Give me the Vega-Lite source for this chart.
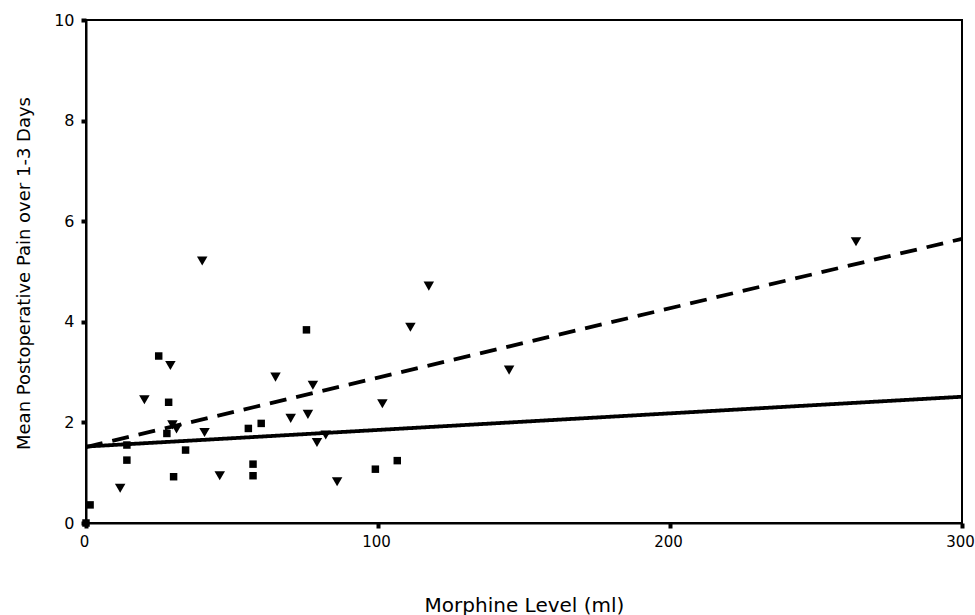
{
  "$schema": "https://vega.github.io/schema/vega-lite/v6.json",
  "width": 876,
  "height": 503,
  "autosize": {"type": "none"},
  "padding": {"left": 86, "top": 20, "right": 13, "bottom": 92},
  "background": "white",
  "config": {
    "view": {"stroke": "#000000", "strokeWidth": 2},
    "font": "DejaVu Sans",
    "axis": {
      "domainColor": "#000000",
      "domainWidth": 2,
      "tickColor": "#000000",
      "tickSize": 5,
      "tickWidth": 4,
      "grid": false,
      "labelColor": "#000000",
      "labelFont": "DejaVu Sans",
      "labelFontSize": 16,
      "labelFlush": false,
      "titleColor": "#000000",
      "titleFont": "DejaVu Sans",
      "titleFontWeight": "normal"
    }
  },
  "datasets": {
    "pts": [
      {"morphine": 0, "pain": 0, "group": "A"},
      {"morphine": 1.4, "pain": 0.36, "group": "A"},
      {"morphine": 24.9, "pain": 3.32, "group": "A"},
      {"morphine": 28.3, "pain": 2.4, "group": "A"},
      {"morphine": 14.0, "pain": 1.55, "group": "A"},
      {"morphine": 14.0, "pain": 1.25, "group": "A"},
      {"morphine": 30.0, "pain": 0.92, "group": "A"},
      {"morphine": 27.7, "pain": 1.78, "group": "A"},
      {"morphine": 34.1, "pain": 1.45, "group": "A"},
      {"morphine": 55.6, "pain": 1.88, "group": "A"},
      {"morphine": 60.0, "pain": 1.98, "group": "A"},
      {"morphine": 57.2, "pain": 1.17, "group": "A"},
      {"morphine": 57.2, "pain": 0.94, "group": "A"},
      {"morphine": 75.5, "pain": 3.84, "group": "A"},
      {"morphine": 99.1, "pain": 1.07, "group": "A"},
      {"morphine": 106.6, "pain": 1.24, "group": "A"},
      {"morphine": 11.7, "pain": 0.69, "group": "B"},
      {"morphine": 20.0, "pain": 2.45, "group": "B"},
      {"morphine": 28.9, "pain": 3.13, "group": "B"},
      {"morphine": 29.6, "pain": 1.95, "group": "B"},
      {"morphine": 31.0, "pain": 1.87, "group": "B"},
      {"morphine": 39.8, "pain": 5.21, "group": "B"},
      {"morphine": 40.6, "pain": 1.8, "group": "B"},
      {"morphine": 45.8, "pain": 0.94, "group": "B"},
      {"morphine": 64.9, "pain": 2.9, "group": "B"},
      {"morphine": 70.1, "pain": 2.08, "group": "B"},
      {"morphine": 76.0, "pain": 2.16, "group": "B"},
      {"morphine": 77.7, "pain": 2.74, "group": "B"},
      {"morphine": 79.1, "pain": 1.6, "group": "B"},
      {"morphine": 82.1, "pain": 1.75, "group": "B"},
      {"morphine": 86.0, "pain": 0.82, "group": "B"},
      {"morphine": 101.5, "pain": 2.37, "group": "B"},
      {"morphine": 111.1, "pain": 3.89, "group": "B"},
      {"morphine": 117.4, "pain": 4.71, "group": "B"},
      {"morphine": 144.9, "pain": 3.04, "group": "B"},
      {"morphine": 263.7, "pain": 5.59, "group": "B"}
    ],
    "fits": [
      {"morphine": 0, "pain": 1.52, "group": "A"},
      {"morphine": 300, "pain": 2.51, "group": "A"},
      {"morphine": 0, "pain": 1.51, "group": "B"},
      {"morphine": 300, "pain": 5.65, "group": "B"}
    ]
  },
  "encoding": {
    "x": {
      "field": "morphine",
      "type": "quantitative",
      "scale": {"domain": [0, 300], "nice": false, "zero": false},
      "axis": {
        "values": [0, 100, 200, 300],
        "title": "Morphine Level (ml)",
        "titleFontSize": 20,
        "titleBaseline": "alphabetic",
        "titleY": 88,
        "labelFontSize": 15,
        "labelOffset": -2,
        "labelPadding": 6
      }
    },
    "y": {
      "field": "pain",
      "type": "quantitative",
      "scale": {"domain": [0, 10], "nice": false, "zero": false},
      "axis": {
        "values": [0, 2, 4, 6, 8, 10],
        "title": "Mean Postoperative Pain over 1-3 Days",
        "titleFontSize": 18,
        "titleAngle": 270,
        "titleBaseline": "alphabetic",
        "titleAlign": "center",
        "titleX": -57,
        "titleY": 253,
        "labelPadding": 7
      }
    }
  },
  "layer": [
    {
      "data": {"name": "fits"},
      "mark": {"type": "line", "color": "#000000", "strokeWidth": 3.8, "strokeCap": "butt"},
      "encoding": {
        "detail": {"field": "group", "type": "nominal"},
        "strokeDash": {
          "field": "group",
          "type": "nominal",
          "scale": {"domain": ["A", "B"], "range": [[1, 0], [17, 10]]},
          "legend": null
        }
      }
    },
    {
      "data": {"name": "pts"},
      "mark": {"type": "point", "filled": true, "color": "#000000", "opacity": 1},
      "encoding": {
        "shape": {
          "field": "group",
          "type": "nominal",
          "scale": {"domain": ["A", "B"], "range": ["square", "triangle-down"]},
          "legend": null
        },
        "size": {
          "field": "group",
          "type": "nominal",
          "scale": {"domain": ["A", "B"], "range": [56, 110]},
          "legend": null
        }
      }
    }
  ]
}
